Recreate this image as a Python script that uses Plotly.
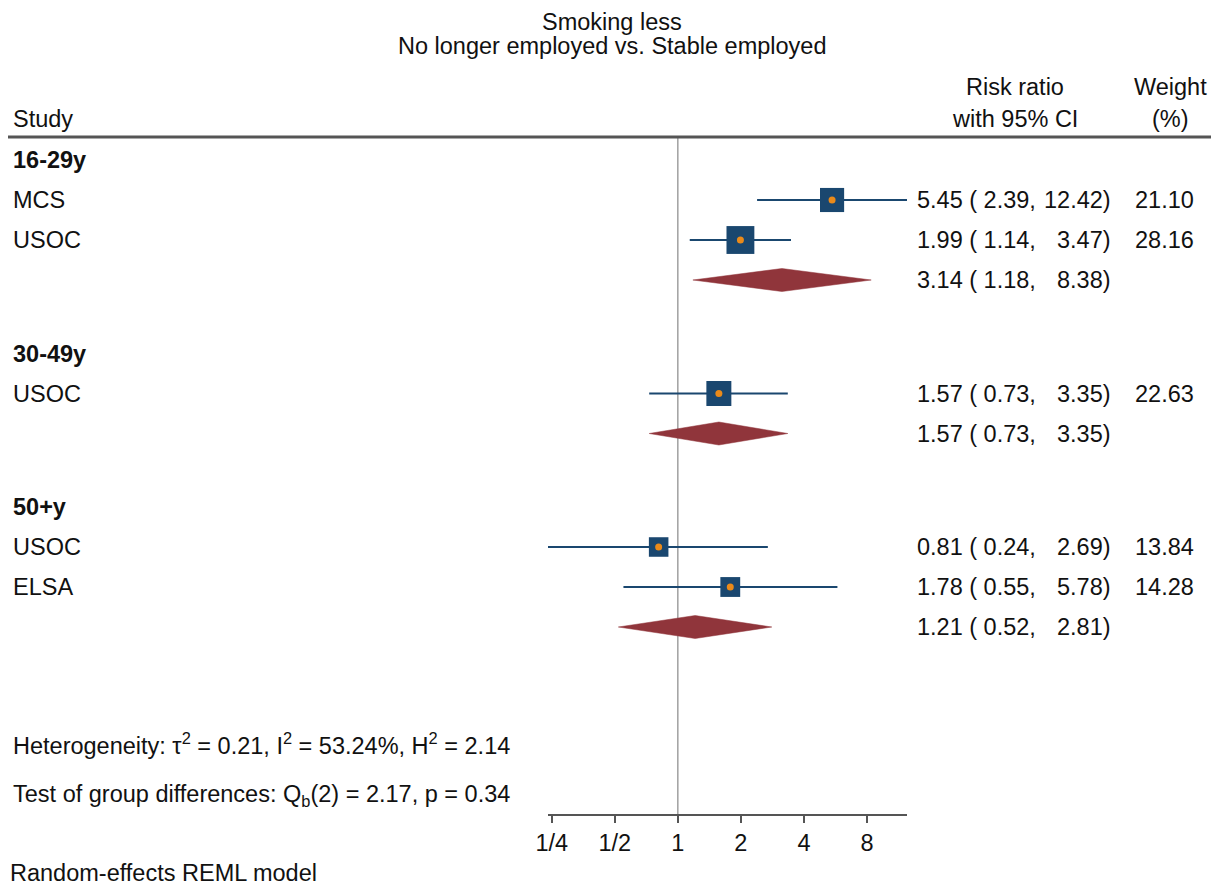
import math
import plotly.graph_objects as go

# ---------------- data ----------------
groups = ["16-29y", "30-49y", "50+y"]
study_group = [0, 0, 1, 2, 2]
study_names = ["MCS", "USOC", "USOC", "USOC", "ELSA"]
rr = [5.45, 1.99, 1.57, 0.81, 1.78]
ci_lo = [2.39, 1.14, 0.73, 0.24, 0.55]
ci_hi = [12.42, 3.47, 3.35, 2.69, 5.78]
weight = [21.10, 28.16, 22.63, 13.84, 14.28]
pooled_rr = [3.14, 1.57, 1.21]
pooled_lo = [1.18, 0.73, 0.52]
pooled_hi = [8.38, 3.35, 2.81]
tick_vals = [0.25, 0.5, 1, 2, 4, 8]
tick_text = ["1/4", "1/2", "1", "2", "4", "8"]

title_lines = ["Smoking less", "No longer employed vs. Stable employed"]
het_text = "Heterogeneity: τ<sup>2</sup> = 0.21, I<sup>2</sup> = 53.24%, H<sup>2</sup> = 2.14"
test_text = "Test of group differences: Q<sub>b</sub>(2) = 2.17, p = 0.34"
model_text = "Random-effects REML model"

# ---------------- layout constants ----------------
PAGE_W, PAGE_H = 1219, 893
OFF = 8                       # default page body margin
W, H = PAGE_W - 2 * OFF, PAGE_H - 2 * OFF
FONT = "Liberation Sans, Arial, sans-serif"
FS = 23.5
NAVY = "#1a476f"
MAROON = "#90353b"
ORANGE = "#ea8a1a"
TXT = "#111111"


def px(xp):
    """page-x pixel -> paper fraction"""
    return max(0.0, (xp - OFF) / W)


# row positions (page-pixel coordinate from top)
y = 160.0
group_y, study_y, pooled_y = [], [], []
for g in range(len(groups)):
    group_y.append(y)
    for i, sg in enumerate(study_group):
        if sg == g:
            y += 40
            study_y.append(y)
    y += 40
    pooled_y.append(y)
    y += 73.5

fig = go.Figure()

# CI lines
for i in range(len(rr)):
    fig.add_trace(go.Scatter(x=[ci_lo[i], ci_hi[i]], y=[study_y[i], study_y[i]],
                             mode="lines", line=dict(color=NAVY, width=2),
                             hoverinfo="skip", showlegend=False))
# squares
fig.add_trace(go.Scatter(x=rr, y=study_y, mode="markers", opacity=1,
                         marker=dict(symbol="square", color=NAVY, opacity=1,
                                     size=[5.25 * math.sqrt(w) for w in weight],
                                     line=dict(width=0)),
                         hoverinfo="skip", showlegend=False))
fig.add_trace(go.Scatter(x=rr, y=study_y, mode="markers", opacity=1,
                         marker=dict(symbol="circle", color=ORANGE, size=7, opacity=1,
                                     line=dict(width=0)),
                         hoverinfo="skip", showlegend=False))
# diamonds
hh = 11.5
for g in range(len(groups)):
    yy = pooled_y[g]
    fig.add_trace(go.Scatter(x=[pooled_lo[g], pooled_rr[g], pooled_hi[g], pooled_rr[g], pooled_lo[g]],
                             y=[yy, yy - hh, yy, yy + hh, yy],
                             mode="lines", fill="toself", fillcolor=MAROON,
                             line=dict(color=MAROON, width=0.5),
                             hoverinfo="skip", showlegend=False))

ann = []


def txt(x, y, s, anchor="left", bold=False, size=FS):
    ann.append(dict(x=px(x), y=y, xref="paper", yref="y",
                    text=("<b>%s</b>" % s) if bold else s,
                    xanchor=anchor, yanchor="middle", showarrow=False,
                    font=dict(family=FONT, size=size, color=TXT)))


txt(612, 22, title_lines[0], "center")
txt(612, 46, title_lines[1], "center")
txt(11, 119, "Study")
txt(1015, 87, "Risk ratio", "center")
txt(1015, 119, "with 95% CI", "center")
txt(1170, 87, "Weight", "center")
txt(1170, 119, "(%)", "center")

for g in range(len(groups)):
    txt(11, group_y[g], groups[g], bold=True)
    txt(915, pooled_y[g], "%.2f ( %.2f," % (pooled_rr[g], pooled_lo[g]))
    txt(1113, pooled_y[g], "%.2f)" % pooled_hi[g], "right")
for i in range(len(rr)):
    txt(11, study_y[i], study_names[i])
    txt(915, study_y[i], "%.2f ( %.2f," % (rr[i], ci_lo[i]))
    txt(1113, study_y[i], "%.2f)" % ci_hi[i], "right")
    txt(1196, study_y[i], "%.2f" % weight[i], "right")

txt(11, 744, het_text)
txt(11, 795, test_text)
txt(0, 873, model_text)

shapes = [
    dict(type="line", xref="paper", yref="y", x0=px(6), x1=1, y0=137, y1=137,
         line=dict(color="#555555", width=3)),
    dict(type="line", xref="x", yref="y", x0=1, x1=1, y0=137, y1=815,
         line=dict(color="#a0a0a0", width=1.5), layer="below"),
]

axis_y = 815
fig.update_layout(
    width=W, height=H,
    margin=dict(l=0, r=0, t=0, b=0, pad=0, autoexpand=False),
    paper_bgcolor="white", plot_bgcolor="white",
    showlegend=False,
    annotations=ann, shapes=shapes,
    xaxis=dict(type="log", domain=[px(548), px(907)],
               range=[math.log10(min(ci_lo)), math.log10(max(ci_hi))],
               anchor="free", position=(PAGE_H - OFF - axis_y) / H,
               showline=True, linecolor="#555555", linewidth=1.5,
               ticks="outside", ticklen=7, tickwidth=1.5, tickcolor="#555555",
               tickvals=tick_vals, ticktext=tick_text, showgrid=False, zeroline=False,
               automargin=False,
               tickfont=dict(family=FONT, size=FS, color=TXT), fixedrange=True),
    yaxis=dict(range=[PAGE_H - OFF, OFF], domain=[0, 1], visible=False, showgrid=False,
               zeroline=False, fixedrange=True, automargin=False),
)

fig.write_html("out.html")
